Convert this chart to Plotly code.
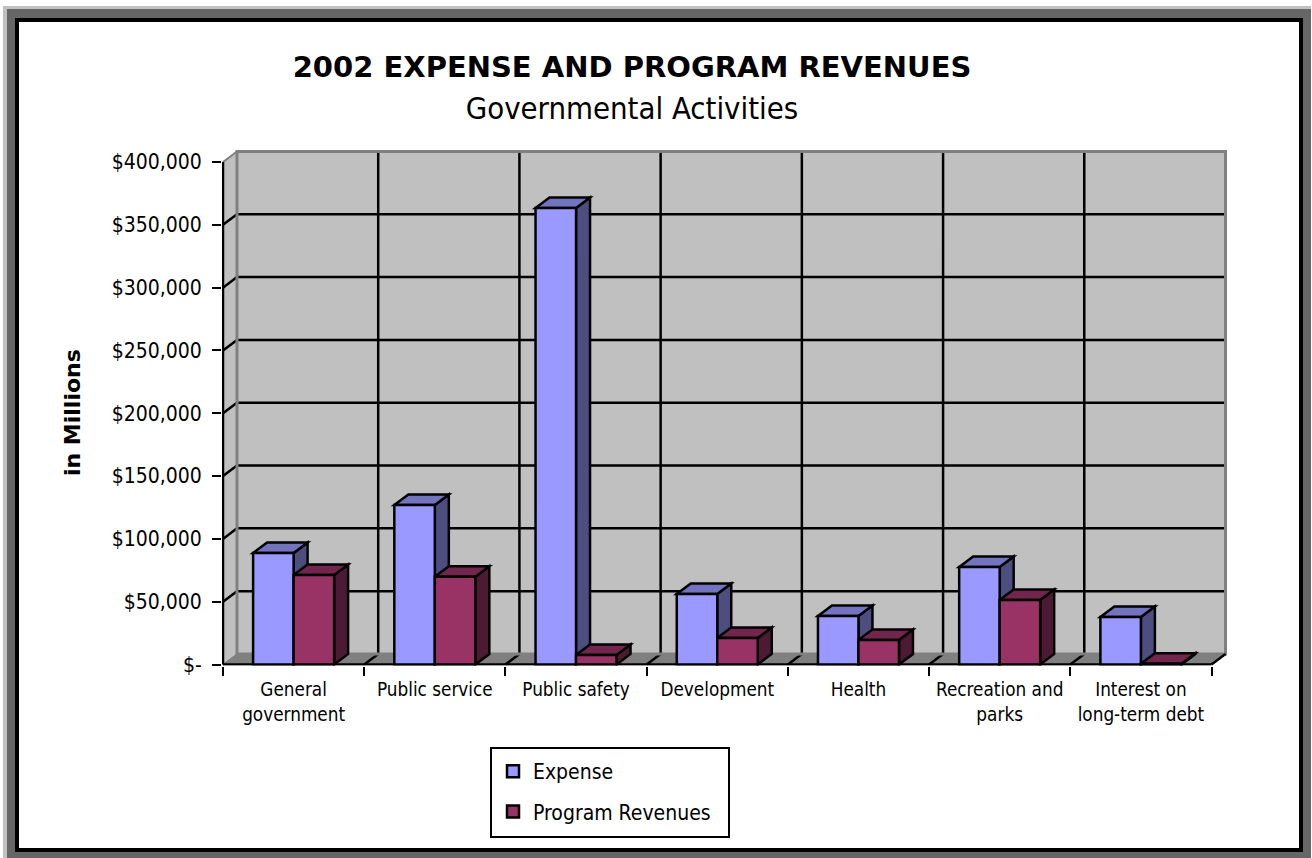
import plotly.graph_objects as go

# ---- data ----
categories = ["General<br>government", "Public service", "Public safety", "Development",
              "Health", "Recreation and<br>parks", "Interest on<br>long-term debt"]
expense = [88800, 127000, 363400, 56100, 38600, 77600, 37800]
program_revenues = [71300, 69900, 7500, 21100, 19500, 51300, 500]
tick_values = [0, 50000, 100000, 150000, 200000, 250000, 300000, 350000, 400000]
tick_labels = ["$-", "$50,000", "$100,000", "$150,000", "$200,000", "$250,000",
               "$300,000", "$350,000", "$400,000"]

# ---- page geometry (pixels) ----
W, H = 1312, 858
X0, X1 = 223.0, 1211.5      # category axis ends
Y0, Y1 = 664.5, 162.0       # value axis ends
DEPTH_PX_X, DEPTH_PX_Y = 14.0, 10.5
PAD = 1.0
LW = 2.5
FONT = "DejaVu Sans Condensed, DejaVu Sans, sans-serif"
TICK_FONT = 21
CAT_FONT = 18.8

n = len(categories)
px_per_cat = (X1 - X0) / n
px_per_val = (Y0 - Y1) / 400000
dx = DEPTH_PX_X / px_per_cat
dy = DEPTH_PX_Y / px_per_val
bar_w = 40.5 / px_per_cat
xl, xr = -0.5, n - 0.5
vmax = tick_values[-1]


def poly(points):
    return "M " + " L ".join(f"{x:.4f},{y:.2f}" for x, y in points) + " Z"


def data_shape(points, fill=None, line="black", width=LW):
    return dict(type="path", xref="x", yref="y", layer="below", path=poly(points),
                fillcolor=fill if fill else "rgba(0,0,0,0)",
                line=dict(color=line, width=width))


def frame(x0, y0, x1, y1, fill, line_color=None, line_width=0):
    return dict(type="rect", xref="paper", yref="paper", layer="below",
                x0=x0 / W, x1=x1 / W, y0=1 - y0 / H, y1=1 - y1 / H,
                fillcolor=fill, line=dict(color=line_color or fill, width=line_width))


shapes = [
    frame(3, 6, 1311, 858, "#c0c0c0"),
    frame(7, 9, 1311, 858, "#666666"),
    frame(15, 18, 1303, 852, "#000000"),
    frame(19, 22, 1299, 848, "#ffffff"),
]
GREY = "#808080"
WALL = "#c0c0c0"
# floor, side wall, back wall
shapes.append(data_shape([(xl, 0), (xr, 0), (xr + dx, dy), (xl + dx, dy)], GREY, GREY, 1))
shapes.append(data_shape([(xl, 0), (xl + dx, dy), (xl + dx, vmax + dy), (xl, vmax)], WALL, GREY, 1))
shapes.append(data_shape([(xl + dx, dy), (xr + dx, dy), (xr + dx, vmax + dy), (xl + dx, vmax + dy)], WALL, WALL, 0))
# grid: back wall and side wall
for v in tick_values[1:-1]:
    shapes.append(data_shape([(xl + dx, v + dy), (xr + dx, v + dy)]))
    shapes.append(data_shape([(xl, v), (xl + dx, v + dy)]))
for i in range(1, n):
    shapes.append(data_shape([(xl + i + dx, dy), (xl + i + dx, vmax + dy)]))
    shapes.append(data_shape([(xl + i, 0), (xl + i + dx, dy)]))
# back wall outline
shapes.append(data_shape([(xl + dx, dy), (xl + dx, vmax + dy), (xr + dx, vmax + dy), (xr + dx, dy)], None, GREY, 3))
shapes.append(data_shape([(xl, vmax), (xl + dx, vmax + dy)], None, GREY, 2))
shapes.append(data_shape([(xr, 0), (xr + dx, dy)]))
shapes.append(data_shape([(xl, 0), (xl + dx, dy)], None, GREY, 1))
# axis lines
shapes.append(data_shape([(xl, 0), (xl, vmax)]))
shapes.append(data_shape([(xl, 0), (xr, 0)]))

# 3-D faces of the bars, from the values
SERIES = [
    (expense, -bar_w, "#7373bf", "#4d4d80"),
    (program_revenues, 0.0, "#73264d", "#4d1a33"),
]
for i in range(n):
    for values, off, top, side in SERIES:
        v = values[i]
        a, b = i + off, i + off + bar_w
        shapes.append(data_shape([(b, 0), (b + dx, dy), (b + dx, v + dy), (b, v)], side))
        shapes.append(data_shape([(a, v), (b, v), (b + dx, v + dy), (a + dx, v + dy)], top))

fig = go.Figure()
fig.add_bar(name="Expense", x=categories, y=expense, legendgroup="a",
            marker=dict(color="#9999ff", line=dict(color="black", width=LW)))
fig.add_bar(name="Program Revenues", x=categories, y=program_revenues, legendgroup="b",
            marker=dict(color="#993366", line=dict(color="black", width=LW)))

plot_left = X0 - PAD
plot_right = X1 + DEPTH_PX_X + 4
plot_bottom = Y0 + PAD
plot_top = Y1 - DEPTH_PX_Y - 4

LEG_X, LEG_Y = 493.0, 751.0
shapes.append(frame(491, 748, 729, 837, "#ffffff", "#000000", 2))

fig.update_layout(
    width=W, height=H, autosize=False,
    margin=dict(l=0, r=0, t=0, b=0, pad=0, autoexpand=False),
    paper_bgcolor="rgba(0,0,0,0)", plot_bgcolor="rgba(0,0,0,0)",
    font=dict(family=FONT, color="black", size=CAT_FONT),
    barmode="group", bargap=1 - 2 * bar_w, bargroupgap=0,
    shapes=shapes,
    showlegend=True,
    legend=dict(x=LEG_X / W, y=1 - LEG_Y / H, xanchor="left", yanchor="top",
                bgcolor="rgba(0,0,0,0)", borderwidth=0,
                font=dict(family=FONT, size=21, color="black"),
                traceorder="grouped", tracegroupgap=10),
    title=dict(
        text="<span style='font-family:DejaVu Sans;font-size:29px'><b>2002 EXPENSE AND PROGRAM REVENUES</b></span><br>"
             "<span style='font-size:30.8px'>Governmental Activities</span>",
        x=632 / W, xanchor="center", y=1 - 77 / H, yanchor="top",
        font=dict(family=FONT, size=32, color="black"),
        automargin=False,
    ),
    annotations=[dict(text="<b>in Millions</b>", xref="paper", yref="paper",
                      x=73 / W, y=1 - 413 / H, showarrow=False, textangle=-90,
                      xanchor="center", yanchor="middle",
                      font=dict(family="DejaVu Sans, sans-serif", size=22, color="black"))],
    xaxis=dict(
        type="category", categoryorder="array", categoryarray=categories, automargin=False,
        domain=[plot_left / W, plot_right / W],
        range=[xl - PAD / px_per_cat, xr + dx + 4 / px_per_cat],
        tickson="boundaries", ticks="outside", ticklen=9, tickwidth=2, tickcolor="black",
        showgrid=False, zeroline=False, showline=False, ticklabelstandoff=11,
        tickfont=dict(family=FONT, size=CAT_FONT, color="black"), tickangle=0,
    ),
    yaxis=dict(
        automargin=False,
        domain=[1 - plot_bottom / H, 1 - plot_top / H],
        range=[-PAD / px_per_val, vmax + dy + 4 / px_per_val],
        tickmode="array", tickvals=tick_values, ticktext=tick_labels,
        ticks="outside", ticklen=9, tickwidth=2, tickcolor="black",
        showgrid=False, zeroline=False, showline=False, ticklabelstandoff=6,
        tickfont=dict(family=FONT, size=TICK_FONT, color="black"),
    ),
)

fig.write_html(
    "out.html",
    config={"displayModeBar": False},
    post_script="document.body.style.margin='0';",
)
